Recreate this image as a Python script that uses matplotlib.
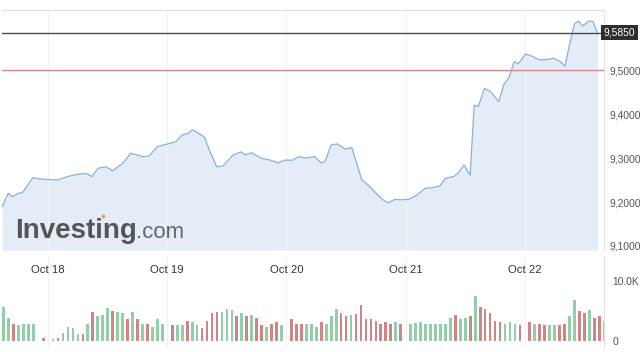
import matplotlib
matplotlib.use("Agg")
import matplotlib.pyplot as plt
from matplotlib.ticker import FuncFormatter

plt.rcParams['font.family'] = ['Liberation Sans', 'DejaVu Sans']

# price line: time in fractional days of October, price
days = [17.614, 17.665, 17.700, 17.751, 17.785, 17.871, 17.940, 18.077, 18.180, 18.248,
        18.317, 18.368, 18.420, 18.488, 18.540, 18.626, 18.694, 18.797, 18.849, 18.917,
        19.003, 19.072, 19.123, 19.175, 19.209, 19.243, 19.312, 19.363, 19.415, 19.466,
        19.552, 19.620, 19.655, 19.706, 19.792, 19.844, 19.929, 19.981, 20.049, 20.101,
        20.152, 20.238, 20.289, 20.324, 20.375, 20.426, 20.495, 20.547, 20.598, 20.632,
        20.684, 20.752, 20.804, 20.855, 20.907, 20.958, 21.027, 21.095, 21.164, 21.232,
        21.284, 21.335, 21.404, 21.438, 21.490, 21.541, 21.575, 21.610, 21.661, 21.713,
        21.781, 21.822, 21.867, 21.911, 21.946, 22.004, 22.056, 22.124, 22.193, 22.244,
        22.296, 22.337, 22.371, 22.416, 22.450, 22.484, 22.536, 22.570, 22.611]
prices = [9.189, 9.220, 9.212, 9.220, 9.221, 9.255, 9.252, 9.250, 9.259, 9.263,
          9.265, 9.258, 9.277, 9.280, 9.271, 9.288, 9.311, 9.303, 9.305, 9.326,
          9.332, 9.337, 9.352, 9.356, 9.364, 9.360, 9.347, 9.311, 9.280, 9.282,
          9.307, 9.314, 9.307, 9.312, 9.299, 9.297, 9.289, 9.295, 9.295, 9.303,
          9.300, 9.303, 9.289, 9.292, 9.330, 9.332, 9.320, 9.324, 9.280, 9.250,
          9.239, 9.220, 9.206, 9.198, 9.206, 9.205, 9.206, 9.216, 9.231, 9.233,
          9.236, 9.254, 9.258, 9.265, 9.284, 9.261, 9.420, 9.417, 9.458, 9.451,
          9.428, 9.466, 9.483, 9.519, 9.514, 9.536, 9.532, 9.523, 9.524, 9.527,
          9.519, 9.509, 9.553, 9.605, 9.611, 9.600, 9.611, 9.611, 9.583]

last_price = 9.5850
ref_price = 9.5000
price_ticks = [9.1, 9.2, 9.3, 9.4, 9.5]

# hourly volume (thousands), first bar Oct 17 15:00; 0 = no bar
vol_start = 17.625
volumes = [5.6, 3.9, 2.8, 2.7, 2.9, 2.9, 2.9, 0, 0.45, 0, 0.3, 0.45, 1.3, 2.3, 2.2, 1.1,
           1.1, 2.8, 4.8, 4.2, 4.3, 5.5, 5.0, 4.9, 4.6, 3.6, 4.8, 3.6, 2.8, 2.8, 2.4, 3.6,
           2.8, 0, 2.6, 2.7, 2.6, 3.4, 3.1, 2.7, 2.2, 3.4, 4.6, 4.9, 4.9, 5.3, 5.2, 4.2,
           4.6, 4.1, 4.4, 3.9, 2.7, 2.3, 2.8, 3.2, 2.7, 0, 3.6, 2.8, 2.8, 2.8, 2.8, 2.4,
           3.2, 2.8, 4.1, 5.3, 4.6, 4.2, 4.4, 4.5, 6.0, 3.7, 3.6, 3.4, 2.8, 3.1, 2.8, 3.1,
           2.9, 0, 2.9, 3.0, 3.2, 2.8, 2.8, 2.8, 2.8, 2.8, 3.9, 4.3, 3.6, 3.9, 4.2, 7.5,
           5.7, 5.4, 4.6, 3.4, 3.2, 2.8, 3.1, 2.8, 2.7, 0, 3.1, 2.8, 2.8, 2.7, 2.6, 2.7,
           2.6, 2.9, 4.1, 6.9, 5.0, 4.6, 5.1, 3.9, 4.1, 3.4]
# bar direction per hour: g = up, r = down, x = no bar
vol_dirs = ("ggrggggxrxgrggggrgrgggrg"
            "grgrgrgggxrggrggrrrrgggr"
            "grgrrgrrgxrrrgggrgggrrgr"
            "rrrrrrrgrxgggggggggrggrg"
            "rrrrrgggrxrgrrggrrggrrgrrg")

date_ticks = [18, 19, 20, 21, 22]
date_labels = ["Oct 18", "Oct 19", "Oct 20", "Oct 21", "Oct 22"]

x_left, x_right = 17.613, 22.664
W, H = 640, 352

fig = plt.figure(figsize=(6.4, 3.52), dpi=100)
axv = fig.add_axes([2 / W, (H - 348) / H, 602 / W, 92 / H])
ax = fig.add_axes([2 / W, (H - 250) / H, 602 / W, 240 / H])
axv.patch.set_alpha(0)

line_c = '#8aafd8'
fill_c = '#e4edf7'
grid_c = '#f1f1f1'
edge_c = '#e2e2e2'

ymin, ymax = 9.0909, 9.6364
ax.fill_between(days, prices, ymin, color=fill_c, lw=0, zorder=1)
ax.plot(days, prices, color=line_c, lw=0.9, zorder=3)
ax.axhline(ref_price, color='#d48a8a', lw=1.0, zorder=4)
ax.axhline(last_price, color='#4a4a4a', lw=1.0, zorder=4)
ax.set_xlim(x_left, x_right)
ax.set_ylim(ymin, ymax)

ax.set_xticks(date_ticks)
ax.set_xticklabels(date_labels)
ax.set_yticks(price_ticks)
ax.yaxis.set_major_formatter(FuncFormatter(lambda v, p: f"{v:.4f}".replace('.', ',')))
ax.yaxis.tick_right()
ax.tick_params(axis='y', length=0, pad=4, labelsize=7.4, labelcolor='#555555')
ax.tick_params(axis='x', length=0, pad=11, labelsize=8.2, labelcolor='#333333')
ax.grid(axis='x', color=grid_c, lw=0.8, zorder=0)
for s in ['left', 'bottom']:
    ax.spines[s].set_visible(False)
for s in ['top', 'right']:
    ax.spines[s].set_color(edge_c)
    ax.spines[s].set_linewidth(0.8)

# last price tag
ax.text(1.0, last_price, f"{last_price:.4f}".replace('.', ','),
        transform=ax.get_yaxis_transform(), ha='left', va='center',
        fontsize=7.4, color='white', zorder=6, clip_on=False,
        bbox=dict(boxstyle='square,pad=0.25', fc='#2e2e2e', ec='none'))

# watermark
ax.text(0.0216, 0.05, "Investing", transform=ax.transAxes, fontsize=20,
        fontweight='bold', color='#555555', va='baseline', ha='left', zorder=2)
ax.text(0.2226, 0.05, ".com", transform=ax.transAxes, fontsize=16,
        color='#666666', va='baseline', ha='left', zorder=2)
ax.scatter([0.1686], [0.1396], s=7, color='#f0a030', transform=ax.transAxes,
           zorder=2, lw=0)

# volume bars
vol_x = [vol_start + i / 24 for i in range(len(volumes))]
bar_cols = ['#93cda9' if d == 'g' else '#cf8583' for d in vol_dirs]
axv.bar(vol_x, volumes, width=0.55 / 24, color=bar_cols, lw=0, zorder=2)
axv.set_xlim(x_left, x_right)
axv.set_ylim(-1.167, 14.17)
axv.set_xticks(date_ticks)
axv.set_xticklabels([])
axv.set_yticks([0, 10])
axv.set_yticklabels(["0", "10.0K"])
axv.yaxis.tick_right()
axv.tick_params(axis='y', length=0, pad=6, labelsize=7.4, labelcolor='#555555')
axv.tick_params(axis='x', length=0)
axv.grid(axis='x', color=grid_c, lw=0.8, zorder=0)
for s in ['left', 'bottom', 'top']:
    axv.spines[s].set_visible(False)
axv.spines['right'].set_color(edge_c)
axv.spines['right'].set_linewidth(0.8)

fig.savefig("out.png", dpi=100)
